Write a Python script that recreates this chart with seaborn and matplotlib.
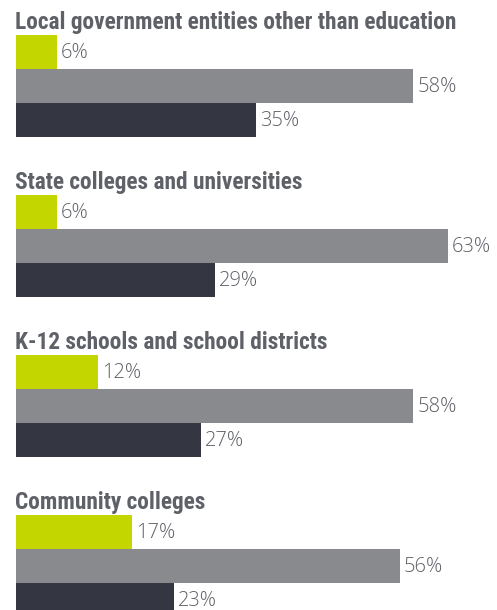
import matplotlib
matplotlib.use("Agg")
import matplotlib.pyplot as plt
import pandas as pd
import seaborn as sns

# --- data ---------------------------------------------------------------
groups = [
    "Local government entities other than education",
    "State colleges and universities",
    "K-12 schools and school districts",
    "Community colleges",
]
series = ["green", "gray", "dark"]
green_vals = [6, 6, 12, 17]
gray_vals = [58, 63, 58, 56]
dark_vals = [35, 29, 27, 23]

colors = {"green": "#c4d600", "gray": "#888a8e", "dark": "#343641"}
title_color = "#5e6168"
label_color = "#5e6168"

# --- layout (pixel units, y grows downward) -----------------------------
W, H = 497, 610
BAR_H = 34
GROUP_STEP = 160
FIRST_TOP = 35
LEFT = 16
PX_PER_PCT = 6.85

rows = []
for g, name in enumerate(groups):
    for b, (s, vals) in enumerate(zip(series, [green_vals, gray_vals, dark_vals])):
        rows.append({
            "group": name,
            "series": s,
            "value": vals[g],
            "ypos": FIRST_TOP + g * GROUP_STEP + (b + 0.5) * BAR_H,
        })
df = pd.DataFrame(rows)

sns.set_theme(style="white")
plt.rcParams["font.family"] = ["Open Sans", "DejaVu Sans"]

fig = plt.figure(figsize=(W / 100, H / 100), dpi=100)
ax = fig.add_axes([0, 0, 1, 1])

sns.barplot(
    data=df, x="value", y="ypos", hue="series", hue_order=series,
    palette=colors, orient="h", native_scale=True, dodge=False,
    width=1.0, errorbar=None, legend=False, saturation=1.0,
    linewidth=0, ax=ax,
)

ax.set_xlim(-LEFT / PX_PER_PCT, (W - LEFT) / PX_PER_PCT)
ax.set_ylim(H, 0)
ax.axis("off")

# value labels
for _, r in df.iterrows():
    ax.annotate(
        f"{r['value']}%", xy=(r["value"], r["ypos"] + 1.5), xytext=(4, 0),
        textcoords="offset pixels", ha="left", va="center",
        fontsize=14.5, fontweight="light", color=label_color,
        family=["Open Sans", "DejaVu Sans"],
    )

# group titles
for g, name in enumerate(groups):
    ax.text(
        -0.1, FIRST_TOP + g * GROUP_STEP - 6, name, ha="left", va="baseline",
        fontsize=16.8, fontweight="bold", color=title_color,
        family=["Roboto Condensed", "DejaVu Sans"],
    )

fig.savefig("out.png", dpi=100, facecolor="white")
